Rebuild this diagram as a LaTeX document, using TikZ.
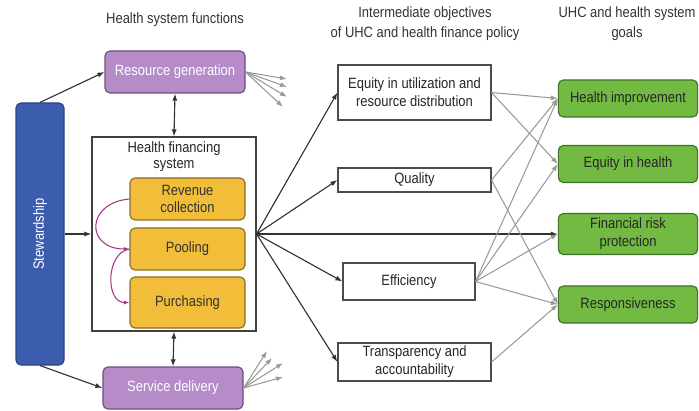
\documentclass[tikz,border=0pt]{standalone}
\usepackage{fontspec}
\setmainfont{Liberation Sans}[FakeStretch=0.87]
\usetikzlibrary{arrows.meta}
\definecolor{funcfill}{HTML}{B58CC8}
\definecolor{funcline}{HTML}{6E4C80}
\definecolor{stewfill}{HTML}{3C5DAE}
\definecolor{stewline}{HTML}{2A4384}
\definecolor{finfill}{HTML}{F2BD38}
\definecolor{finline}{HTML}{8C6D28}
\definecolor{goalfill}{HTML}{73BA42}
\definecolor{goalline}{HTML}{3F7327}
\definecolor{curvecol}{HTML}{A3377F}

\begin{document}
\begin{tikzpicture}[every node/.style={black!85},
	>={Latex[length=5pt,width=3.6pt]},
	heading/.style={align=center, text=black!80, font=\fontsize{10.6}{13.6}\selectfont},
	hfstitle/.style={align=center, text=black!85, font=\fontsize{10.6}{11.4}\selectfont},
	func/.style={draw=funcline, fill=funcfill, text=white, line width=0.8pt, rounded corners=3.5pt,
		minimum width=3.5cm, minimum height=1.05cm, font=\fontsize{10.6}{12.6}\selectfont},
	stewbox/.style={draw=stewline, fill=stewfill, text=white, line width=0.8pt, rounded corners=3.5pt,
		minimum width=1.2cm, minimum height=6.55cm, font=\fontsize{10.6}{12.6}\selectfont},
	hfsbox/.style={draw=black!75, fill=white, line width=0.8pt, minimum width=4.1cm, minimum height=4.85cm},
	finbox/.style={draw=finline, fill=finfill, text=black!80, line width=0.8pt, rounded corners=3.5pt,
		align=center, minimum width=2.875cm, minimum height=1.05cm, font=\fontsize{10.6}{12.6}\selectfont},
	objbox/.style={draw=black!70, fill=white, text=black!85, line width=0.8pt, inner sep=2pt,
		align=center, minimum width=3.825cm, font=\fontsize{10.6}{12.6}\selectfont},
	goal/.style={draw=goalline, fill=goalfill, text=black!85, line width=0.8pt, rounded corners=3.5pt,
		align=center, minimum width=3.48cm, minimum height=0.925cm, font=\fontsize{10.6}{12.6}\selectfont},
	darkarrow/.style={->, draw=black!80, line width=0.8pt},
	dblarrow/.style={<->, draw=black!80, line width=0.8pt},
	grayarrow/.style={->, draw=black!40, line width=0.75pt},
	curvearrow/.style={->, >={Latex[length=4pt,width=3pt]}, draw=curvecol, line width=0.75pt}]
	\useasboundingbox (0,0) rectangle (17.475,10.25);

	% column headings
	\node[heading] (hsf) at (4.375,9.75) {Health system functions};
	\node[heading] (imo) at (10.625,9.66) {Intermediate objectives\\of UHC and health finance policy};
	\node[heading] (uhc) at (15.675,9.66) {UHC and health system\\goals};

	% health system functions
	\node[func] (rg) at (4.375,8.45) {Resource generation};
	\node[func] (sd) at (4.325,0.55) {Service delivery};
	\node[stewbox] (stew) at (1.0,4.4) {\rotatebox{90}{Stewardship}};
	\node[hfsbox] (hfs) at (4.35,4.4) {};
	\node[hfstitle, below] (hfsname) at (hfs.north) {Health financing\\system};
	\node[finbox] (rev) at (4.6875,5.275) {Revenue\\collection};
	\node[finbox] (pool) at (4.6875,4.025) {Pooling};
	\node[finbox, minimum height=1.275cm] (purch) at (4.6875,2.6875) {Purchasing};

	% intermediate objectives
	\node[objbox, minimum height=1.375cm] (equ) at (10.3625,7.9375) {Equity in utilization and\\resource distribution};
	\node[objbox, minimum height=0.6cm] (qual) at (10.3625,5.75) {Quality};
	\node[objbox, minimum width=3.3cm, minimum height=0.925cm] (eff) at (10.225,3.2125) {Efficiency};
	\node[objbox, minimum height=0.95cm] (trans) at (10.3625,1.2) {Transparency and\\accountability};

	% goals
	\node[goal] (hi) at (15.7,7.7875) {Health improvement};
	\node[goal] (eh) at (15.7,6.15) {Equity in health};
	\node[goal] (frp) at (15.7,4.4) {Financial risk\\protection};
	\node[goal] (resp) at (15.7,2.6375) {Responsiveness};

	% loose ends of the small fans
	\coordinate (rg1) at (7.175,8.275);
	\coordinate (rg2) at (7.175,8.075);
	\coordinate (rg3) at (7.175,7.825);
	\coordinate (rg4) at (7.075,7.575);
	\coordinate (sd1) at (6.675,1.475);
	\coordinate (sd2) at (6.8,1.3);
	\coordinate (sd3) at (7.075,1.175);
	\coordinate (sd4) at (7.075,0.825);

	\draw[darkarrow] (stew.north) -- (rg.west);
	\draw[darkarrow] (stew.east) -- (hfs.west);
	\draw[darkarrow] (stew.south) -- (sd.west);
	\draw[dblarrow] (rg.south) -- (hfs.north);
	\draw[dblarrow] (hfs.south) -- (sd.north);

	\draw[grayarrow] (rg.east) -- (rg1);
	\draw[grayarrow] (rg.east) -- (rg2);
	\draw[grayarrow] (rg.east) -- (rg3);
	\draw[grayarrow] (rg.east) -- (rg4);
	\draw[grayarrow] (sd.east) -- (sd1);
	\draw[grayarrow] (sd.east) -- (sd2);
	\draw[grayarrow] (sd.east) -- (sd3);
	\draw[grayarrow] (sd.east) -- (sd4);

	\draw[curvearrow] (rev.west) .. controls +(-1.1,-0.1) and +(-1.1,0) .. (pool.west);
	\draw[curvearrow] (pool.west) .. controls +(-0.6,-0.1) and +(-0.6,0) .. (purch.west);

	% from the financing system
	\draw[darkarrow] (hfs.east) -- (equ.west);
	\draw[darkarrow] (hfs.east) -- (qual.west);
	\draw[darkarrow] (hfs.east) -- (frp.west);
	\draw[darkarrow] (hfs.east) -- (eff.west);
	\draw[darkarrow] (hfs.east) -- (trans.west);

	% objectives to goals
	\draw[grayarrow] (equ.east) -- (hi.west);
	\draw[grayarrow] (equ.east) -- (eh.west);
	\draw[grayarrow] (qual.east) -- (hi.west);
	\draw[grayarrow] (qual.east) -- (resp.west);
	\draw[grayarrow] (eff.east) -- (hi.west);
	\draw[grayarrow] (eff.east) -- (eh.west);
	\draw[grayarrow] (eff.east) -- (frp.west);
	\draw[grayarrow] (eff.east) -- (resp.west);
	\draw[grayarrow] (trans.east) -- (resp.west);
\end{tikzpicture}
\end{document}
